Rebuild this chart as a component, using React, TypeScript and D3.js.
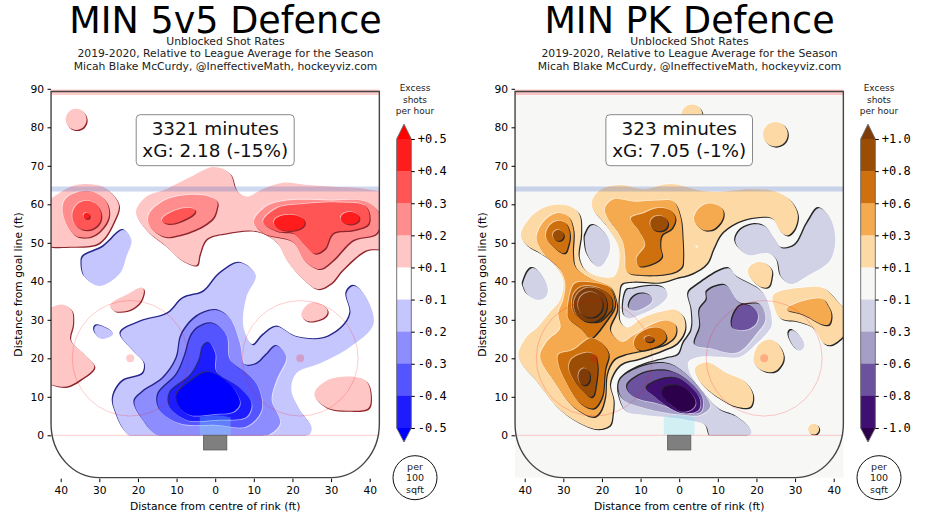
import { useEffect, useRef } from 'react';
import * as d3 from 'd3';

type Pt = [number, number];
type Contour = [number, Pt[]]; // band index (+up, -down), outline in feet

// 5v5 panel, band 1 is +0.1..+0.2, -1 is -0.1..-0.2 and so on
const evenContours: Contour[] = [
  [1, [[-36, 84.8], [-33.3, 82], [-36, 79.3], [-38.7, 82]]],
  [1, [[-45, 59], [-41, 62.5], [-36, 65], [-29, 64.5], [-25, 60], [-26, 56], [-30, 50], [-37, 49], [-45, 50]]],
  [1, [[-20.5, 58], [-17.8, 62], [-12.6, 64], [-6.6, 67], [-0.5, 69.7], [3.8, 68], [5.5, 63.7], [8, 62], [12.4, 64], [17.6, 65.6], [23.6, 65], [32, 64.5], [39, 64], [45, 62], [45, 49], [39, 48], [33, 43], [30, 39.5], [26.5, 38], [22.3, 41], [18.5, 45.5], [16, 50], [10.7, 53], [3, 52.5], [-2.2, 51], [-4, 47], [-4.8, 44.2], [-8.7, 45.5], [-12.6, 49], [-17.8, 53.3]]],
  [1, [[-26.9, 34.3], [-23, 36.5], [-19, 38.4], [-18.9, 35.6], [-21.2, 33], [-24.7, 32.1], [-26.6, 32.7]]],
  [1, [[-45, 31], [-39.8, 34], [-37.2, 32.5], [-36.8, 29], [-37.5, 24.8], [-34.2, 21.3], [-31.3, 17.8], [-35, 14.4], [-39, 12.6], [-45, 15]]],
  [1, [[22.4, 32], [25, 34.5], [28.4, 33.4], [28.8, 31.2], [25.8, 29.7], [23.2, 30]]],
  [1, [[25.8, 11.3], [29.3, 14.4], [35.8, 15.2], [39.2, 14], [40.3, 10], [39.6, 7], [34, 6.4], [29.3, 7], [26, 9.6]]],
  [2, [[-39.4, 60], [-35, 63.3], [-30, 62.4], [-27.5, 58.5], [-29, 54], [-33.3, 51.4], [-37.6, 53.3]]],
  [2, [[-17.4, 56], [-14.3, 60.3], [-7.4, 62.4], [-0.5, 61.6], [0.3, 58.5], [-2.2, 55], [-9.2, 52], [-14.3, 52]]],
  [2, [[10, 55.5], [13.3, 59.5], [18.5, 61], [30, 61], [39, 60.7], [42.5, 57.5], [41.8, 52.5], [35.7, 50.7], [30.5, 45.5], [27, 43.2], [23.2, 45.3], [20, 50.3], [12.5, 52.5]]],
  [3, [[-33.3, 60.9], [-29.5, 57], [-33.3, 53.3], [-37, 57]]],
  [3, [[-13.6, 56.4], [-10, 58.5], [-6.1, 59], [-5.5, 57.6], [-9.2, 55.5], [-12.6, 55]]],
  [3, [[12.4, 55.5], [16, 59], [22, 60], [32, 60.5], [39, 59.5], [39.7, 55], [35.7, 53.3], [30.5, 52.5], [28.4, 48.5], [25.8, 47.2], [22.8, 49.9], [20.2, 52.5], [16, 53]]],
  [4, [[-33.3, 57.8], [-32.5, 57], [-33.3, 56.2], [-34.1, 57]]],
  [4, [[15.2, 55.3], [19.2, 57.3], [23.2, 55.3], [19.2, 53.1]]],
  [4, [[32.5, 56.4], [34.9, 58], [37.3, 56.4], [34.9, 54.8]]],
  [-1, [[-23.8, 53.3], [-21.7, 50.7], [-23, 46.4], [-24.7, 42], [-29.9, 38.8], [-33.8, 41.2], [-34.6, 44.7], [-34.2, 46.4], [-29, 49]]],
  [-1, [[-31.3, 27.8], [-29.9, 28.5], [-26.4, 26.5], [-29, 25], [-30.7, 26]]],
  [-1, [[6.4, 44.8], [10.5, 41.6], [8.1, 36], [7.3, 28.2], [9.8, 23.4], [12.4, 26], [15.9, 28.2], [21, 25.6], [28, 25.2], [33, 28.2], [35, 31.7], [34, 36.9], [35.8, 38.8], [38.4, 36.9], [41, 29], [35, 23], [27.2, 18.7], [21, 16.1], [19.7, 11.8], [21.9, 6.6], [25, 1.8], [23.6, -0.5], [12.4, -1], [-21, -1], [-26, 6.6], [-26.4, 10], [-24, 14], [-18.7, 16], [-18.3, 18.7], [-21, 21.7], [-24.5, 26.5], [-19.5, 29.5], [-12.2, 31.7], [-8.3, 35.6], [-3, 37.3], [1.2, 42]]],
  [-2, [[0.3, 32.5], [3.8, 30.4], [6.4, 23.9], [7.7, 18.3], [10.7, 18.5], [13.3, 20.9], [15.9, 23.2], [18.4, 20.4], [15.9, 14.4], [14.6, 9.2], [16.8, 3.1], [12.4, -0.5], [-14, -0.5], [-18.7, 4], [-20.9, 8.7], [-18.7, 11.3], [-13.5, 14.8], [-10, 20], [-8.7, 26], [-4.8, 30.8]]],
  [-3, [[-0.5, 29], [2.9, 26], [3.8, 19.6], [8.1, 16], [11.1, 12.6], [12, 6.6], [8.1, 2.3], [0.3, 2.7], [-9.2, 3.1], [-14.3, 6.6], [-14.8, 10.5], [-10, 15.7], [-7.9, 20.4], [-6.1, 26], [-4, 28.2]]],
  [-4, [[-1.6, 24], [0, 21.3], [0.3, 16.5], [6.4, 12.2], [9.4, 8.3], [8.1, 4.8], [0.3, 4], [-7.4, 4], [-11.7, 7.4], [-11.7, 10.9], [-6.1, 15.7], [-4, 19.6], [-3.1, 23]]],
  [-5, [[-2.4, 16.4], [0.3, 15.7], [4.7, 12.2], [6.4, 8.3], [4.7, 6.1], [-0.5, 5.5], [-6.6, 5.3], [-9.2, 7.4], [-10, 10.5], [-6.6, 13.9]]],
];

// PK panel
const pkContours: Contour[] = [
  [1, [[3.3, 85.9], [6, 83.2], [3.3, 80.5], [0.6, 83.2]]],
  [1, [[24.9, 81.4], [28.1, 78.2], [24.9, 75], [21.7, 78.2]]],
  [1, [[-41, 52], [-38.7, 56.4], [-34.3, 59.4], [-29.5, 59.8], [-26, 57.7], [-25.4, 52.5], [-26, 46.4], [-24.4, 43], [-20.5, 41.2], [-17, 41.2], [-15.7, 43.8], [-15.7, 49], [-18.7, 54.2], [-22.2, 58.5], [-22.6, 60.7], [-20.5, 63.7], [-15.3, 65], [-9.2, 64], [-2.3, 65.3], [7.6, 63.3], [18.8, 64], [24.9, 63.3], [28.8, 61], [30.7, 57.2], [29.7, 53.3], [27.9, 51.9], [26.2, 53], [24, 56.4], [19.7, 56.6], [15.4, 55.5], [11, 52.5], [8.9, 48.6], [7.2, 44.7], [3.3, 42], [-1, 40.8], [-4.9, 39.7], [-11.8, 39.9], [-14.9, 39.3], [-15.5, 36.9], [-15.7, 32.6], [-15.3, 29.5], [-13.5, 28], [-9.5, 30.5], [-5, 32], [-1, 32.6], [1.1, 30.8], [1.5, 27.4], [-0.6, 23.9], [-4, 22.2], [-10, 20], [-15.3, 18.3], [-17.9, 13.5], [-17, 9.2], [-17.2, 5.7], [-17.9, 2.7], [-20.9, 1.6], [-24.8, 2.7], [-30.8, 6.6], [-36.9, 14], [-41.6, 20.4], [-39.5, 25.6], [-36.9, 27.8], [-33.4, 32], [-30.8, 35.2], [-30, 40.3], [-32.6, 44.7], [-36, 47.3], [-39.5, 49.4]]],
  [1, [[24.4, 36.5], [32.2, 38.4], [37.4, 38.2], [40.8, 35], [44, 30.8], [44, 27.8], [39.5, 23.5], [37.4, 23.9], [34.8, 27.8], [30.9, 29.5], [26.2, 30.4], [24.6, 33.4]]],
  [1, [[17.8, 42.9], [20.6, 45], [23.6, 43.6], [23.9, 40.8], [22.7, 38.4], [19.7, 39.5]]],
  [1, [[19.3, 20.4], [21, 23.9], [24.4, 24.6], [27, 20.9], [25.8, 17.4], [23.1, 16.4], [20.1, 17.8]]],
  [1, [[4.1, 17.4], [7.2, 18.9], [12.3, 16.1], [17.1, 13.9], [19.1, 10.5], [18.4, 7.4], [14.9, 7.4], [9.8, 10], [5.4, 13.9]]],
  [1, [[34.8, 3], [36.2, 1.6], [34.8, 0.2], [33.4, 1.6]]],
  [0, [[4.2, 49.4], [4.9, 49], [4.5, 48.7]]],
  [2, [[-36.9, 51.6], [-35.1, 55.5], [-31.7, 57.7], [-28.7, 56.8], [-27.4, 53.3], [-27.5, 47.3], [-26.9, 43.8], [-23, 40.8], [-17.9, 38.6], [-16.6, 36], [-16.1, 32.6], [-17.9, 27.4], [-14.9, 24.3], [-11.8, 26], [-6.6, 29], [-3.2, 29.8], [-1, 28.7], [-1, 26], [-3.2, 23.9], [-8.4, 22.3], [-14.4, 20.9], [-17, 19.6], [-18.7, 16.1], [-19.2, 10], [-20.5, 6.1], [-22.2, 4.8], [-27.4, 7.4], [-32.6, 14.4], [-36, 20.4], [-34.3, 24.3], [-30.8, 27.8], [-31.3, 31.7], [-30, 35.2], [-29.5, 39.5], [-30.8, 43], [-34.3, 46.4], [-36.4, 49.4]]],
  [2, [[-19.2, 59], [-17, 61.3], [-11.8, 60.7], [-5.8, 61], [-1.5, 60.7], [0.3, 56.8], [0.9, 50.7], [1, 46], [0.7, 43.8], [-1.5, 42.3], [-9.2, 41.6], [-13.5, 42.5], [-14, 46.8], [-14.5, 50], [-16, 53], [-18.7, 56.8]]],
  [2, [[3.9, 56.8], [6.3, 59.8], [9.8, 59.8], [11.5, 57.7], [10.2, 54.6], [7.6, 53.2], [5, 54.2]]],
  [2, [[27.9, 33], [35.7, 35.6], [38.7, 33.4], [39.3, 30], [37.4, 28.7], [32.2, 31.3]]],
  [3, [[-34.5, 52], [-33, 55], [-30, 55.5], [-28.4, 52.9], [-28.7, 49.4], [-30, 47.3], [-33, 49.4]]],
  [3, [[-12.5, 56.4], [-9.2, 57.7], [-5.8, 59], [-2.3, 58.5], [-1, 56.4], [-1.9, 53.8], [-4.5, 52], [-4.9, 49], [-4.5, 46.4], [-6.6, 44.7], [-10.5, 44], [-11, 46], [-8.8, 49.4], [-10.5, 53.3]]],
  [3, [[-28.9, 32.1], [-28.2, 36.9], [-26.9, 39.5], [-21.3, 39.5], [-17.9, 38.2], [-16.6, 34.3], [-17, 32.6], [-18.7, 30], [-21.8, 26], [-23, 25.2], [-25.6, 27.8], [-28.7, 30.4]]],
  [3, [[-31.3, 20.9], [-27.4, 22.2], [-23, 25.2], [-20.5, 24.3], [-18.3, 21.3], [-19.2, 17], [-20, 10], [-22.2, 7], [-25.6, 8.3], [-30, 15.2], [-31.3, 18.7]]],
  [3, [[-11.7, 24.3], [-9.7, 26.9], [-5.8, 28], [-3.6, 26.5], [-3.9, 24.3], [-7.1, 22.6], [-10.5, 22.2]]],
  [4, [[-32.7, 51.9], [-31.3, 53.3], [-29.9, 51.9], [-31.3, 50.5]]],
  [4, [[-7.5, 55], [-5.2, 57], [-2.9, 55], [-5.2, 53]]],
  [4, [[-27.4, 36.5], [-25.2, 38.6], [-20.5, 38.2], [-17.7, 36], [-17.4, 33], [-18.3, 31.7], [-20.9, 29.5], [-24.4, 30], [-27.4, 32.1]]],
  [4, [[-28.4, 18.7], [-26, 20.9], [-22.6, 21.3], [-21.2, 18.7], [-21.5, 13.5], [-22.6, 10], [-25.2, 11.8], [-27.8, 15.2]]],
  [4, [[-9, 25], [-7.8, 25.8], [-6.6, 25], [-7.8, 24.2]]],
  [5, [[-27.3, 33.9], [-23, 38.4], [-18.7, 33.9], [-23, 29.4]]],
  [5, [[-26.2, 33.9], [-23, 37.2], [-19.8, 33.9], [-23, 30.6]]],
  [5, [[-26.1, 15.2], [-24.6, 17.4], [-23.1, 15.2], [-24.6, 13]]],
  [-1, [[-40.2, 40.3], [-38.2, 43.4], [-35.6, 41.6], [-34, 37.7], [-35.6, 35.3], [-38.6, 36], [-40.2, 38.2]]],
  [-1, [[-24.1, 52.5], [-22.2, 54.6], [-19.2, 52.5], [-17.9, 49.4], [-18.7, 46], [-20.9, 43.8], [-23.5, 46.4], [-24.4, 49.9]]],
  [-1, [[-14, 36.9], [-11.4, 38.2], [-5.8, 38.8], [-3.2, 37.3], [-4.1, 34.7], [-9.2, 31.7], [-14, 30.8]]],
  [-1, [[14.5, 50.7], [15.8, 53.3], [19.3, 54.8], [22.3, 54.2], [24.9, 50.7], [26.6, 48.6], [30, 49.4], [33.1, 55], [36.1, 59], [38.7, 57], [40.4, 51.6], [39.1, 45.5], [33.5, 41.6], [28.8, 39.3], [26.4, 41.2], [25.3, 45.5], [23.1, 47.3], [18, 46.8], [15.4, 48.6]]],
  [-1, [[2.4, 36.9], [4.6, 39], [12.8, 43.4], [14.9, 41.2], [21.8, 36.9], [24, 29], [23.1, 27], [20.1, 23.9], [15.8, 20.4], [10.6, 20.4], [5.4, 20.4], [2.4, 19.1], [2.8, 16], [7.2, 10], [10.6, 6.6], [14.9, 4.8], [18.7, 1], [17.1, -1], [8.5, -1], [6.7, 2.7], [2, 4], [-4, 4.8], [-9.2, 5.3], [-13.6, 6.1], [-15.3, 9.2], [-15.7, 12.6], [-14, 15.7], [-9.2, 18.3], [-3.2, 20], [-0.2, 20.9], [1.1, 23.9], [3.2, 27.4], [3.2, 32.6]]],
  [-1, [[28.3, 26], [29.6, 27.2], [32.2, 24.3], [31.8, 22.2], [30, 22.6]]],
  [-2, [[-12.9, 34.3], [-11, 36.5], [-7.9, 36.5], [-7.1, 34.7], [-10.1, 32.7], [-12.5, 32.6]]],
  [-2, [[4.1, 23.5], [5.4, 28.2], [5.3, 32.6], [7.1, 35.2], [7.2, 37.3], [11.9, 39], [15.8, 34.3], [21, 33.9], [22.3, 30], [20.1, 26.5], [15, 21.5], [8, 22.6]]],
  [-2, [[-15.3, 14.4], [-11.8, 17], [-5.8, 18.7], [-1.9, 18.3], [2, 15.7], [6.3, 10.9], [8, 7.4], [5.4, 5.3], [1.1, 5.3], [-4.9, 6.1], [-10.1, 7.4], [-14.4, 9.2], [-15.7, 11.8]]],
  [-3, [[13.6, 28.7], [14.5, 32.1], [16.7, 33.9], [19.7, 32.6], [20.3, 30], [18.4, 27.8], [15, 27.4]]],
  [-3, [[-13.4, 13], [-10.1, 15.7], [-5.8, 16.8], [-1.9, 16.5], [2, 14.4], [5.9, 10], [5.9, 6.6], [4.6, 5.7], [-0.6, 6.6], [-5.8, 8.3], [-11, 9.6], [-13.1, 11.3]]],
  [-4, [[-8.4, 12.2], [-4.9, 14.4], [-0.6, 14.8], [3.3, 12.2], [5.4, 9.2], [5, 6.6], [1.1, 5.7], [-2.3, 7], [-5.8, 9.6]]],
  [-5, [[-4.2, 11.8], [-2.8, 12.8], [0.7, 12.6], [3.7, 10], [3.9, 7.4], [1.1, 6.1], [-1.5, 7.4], [-4.1, 10]]],
];

const evenBarLabels = ['+0.5', '+0.4', '+0.3', '+0.2', '+0.1', '-0.1', '-0.2', '-0.3', '-0.4', '-0.5'];
const pkBarLabels = ['+1.0', '+0.8', '+0.6', '+0.3', '+0.1', '-0.1', '-0.3', '-0.6', '-0.8', '-1.0'];

const evenBands = ['#0000ff', '#1c1cff', '#5555ff', '#8d8dff', '#c6c6ff', '#ffffff', '#ffc6c6', '#ff8d8d', '#ff5555', '#ff1c1c', '#ff0000'];
const pkBands = ['#2d004b', '#3f0f72', '#6c519f', '#a59fc8', '#d2d2e7', '#f7f7f6', '#fdd9a6', '#f5aa4f', '#cf700f', '#9b4d05', '#7f3b08'];

const xTicks = [-40, -30, -20, -10, 0, 10, 20, 30, 40];
const yTicks = [0, 10, 20, 30, 40, 50, 60, 70, 80, 90];

const FONT = '"DejaVu Sans", sans-serif';

interface PanelConfig {
  left: number; // pixel of x = -40
  right: number; // pixel of x = +40
  title: string;
  minutes: string;
  xg: string;
  boxWidth: number;
  contours: Contour[];
  bands: string[];
  barLabels: string[];
  shadowUp: string;
  shadowDown: string;
  id: string;
}

const panels: PanelConfig[] = [
  { left: 60.7, right: 369.7, title: 'MIN 5v5 Defence', minutes: '3321 minutes', xg: 'xG: 2.18 (-15%)', boxWidth: 158, contours: evenContours, bands: evenBands, barLabels: evenBarLabels, shadowUp: '#8f262c', shadowDown: '#26268c', id: 'even' },
  { left: 524.7, right: 833.7, title: 'MIN PK Defence', minutes: '323 minutes', xg: 'xG: 7.05 (-1%)', boxWidth: 146.6, contours: pkContours, bands: pkBands, barLabels: pkBarLabels, shadowUp: '#262626', shadowDown: '#262626', id: 'pk' },
];

function drawPanel(svg: d3.Selection<SVGSVGElement, unknown, null, undefined>, p: PanelConfig) {
  const x = d3.scaleLinear().domain([-40, 40]).range([p.left, p.right]);
  const y = d3.scaleLinear().domain([0, 90]).range([435.3, 88.8]);
  const mid = x(0);
  const g = svg.append('g').attr('font-family', FONT);

  // titles
  g.append('text').attr('x', mid + 10.3).attr('y', 33).attr('text-anchor', 'middle').attr('font-size', 36.5).text(p.title);
  const subs = ['Unblocked Shot Rates', '2019-2020, Relative to League Average for the Season', 'Micah Blake McCurdy, @IneffectiveMath, hockeyviz.com'];
  subs.forEach((s, i) => {
    g.append('text').attr('x', mid + 10.3).attr('y', 45 + i * 12.3).attr('text-anchor', 'middle').attr('font-size', 10.8).attr('fill', '#222').text(s);
  });

  const bg = p.bands[5];
  g.append('rect').attr('x', x(-42.5)).attr('y', y(89.7)).attr('width', x(42.5) - x(-42.5)).attr('height', y(-11) - y(89.7)).attr('fill', bg);

  const clipId = `clip-${p.id}`;
  g.append('clipPath').attr('id', clipId).append('rect').attr('x', x(-42.5)).attr('y', y(89)).attr('width', x(42.5) - x(-42.5)).attr('height', y(0) - y(89));

  // short outlines need a rounder spline than the long traced ones
  const makeLine = (n: number) => {
    const curve = n <= 4 ? d3.curveCardinalClosed.tension(-0.66)
      : n <= 8 ? d3.curveCardinalClosed.tension(-0.25)
      : d3.curveCatmullRomClosed.alpha(0.5);
    return d3.line<Pt>().x((d) => x(d[0])).y((d) => y(d[1])).curve(curve);
  };
  const contours = g.append('g').attr('clip-path', `url(#${clipId})`);
  p.contours.forEach(([level, pts]) => {
    const d = makeLine(pts.length)(pts) as string;
    const up = level > 0;
    const dir = up ? 1 : -1;
    if (level !== 0) {
      contours.append('path').attr('d', d).attr('fill', '#ffffff').attr('fill-opacity', 0.5).attr('transform', `translate(${-0.8 * dir},${-0.8 * dir})`);
      contours.append('path').attr('d', d).attr('fill', up ? p.shadowUp : p.shadowDown).attr('transform', `translate(${1.1 * dir},${1.1 * dir})`);
    }
    contours.append('path').attr('d', d).attr('fill', p.bands[5 + level]);
  });

  // rink markings
  const rink = g.append('g').attr('fill', 'none');
  [-22, 22].forEach((cx) => {
    rink.append('ellipse').attr('cx', x(cx)).attr('cy', y(20)).attr('rx', x(15) - x(0)).attr('ry', y(0) - y(15)).attr('stroke', '#ff0000').attr('stroke-opacity', 0.2);
    rink.append('circle').attr('cx', x(cx)).attr('cy', y(20)).attr('r', 4).attr('fill', '#ff0000').attr('fill-opacity', 0.2);
  });
  rink.append('line').attr('x1', x(-42.5)).attr('x2', x(42.5)).attr('y1', y(0)).attr('y2', y(0)).attr('stroke', '#ff0000').attr('stroke-opacity', 0.2);
  rink.append('line').attr('x1', x(-42.5)).attr('x2', x(42.5)).attr('y1', y(64)).attr('y2', y(64)).attr('stroke', '#3c64c0').attr('stroke-opacity', 0.25).attr('stroke-width', 5);
  rink.append('line').attr('x1', x(-42.5)).attr('x2', x(42.5)).attr('y1', y(89.1)).attr('y2', y(89.1)).attr('stroke', '#ff0000').attr('stroke-opacity', 0.2).attr('stroke-width', 5.5);
  rink.append('path')
    .attr('d', `M${x(-4)},${y(0)}L${x(-4)},${y(4.6)}Q${x(0)},${y(5.8)} ${x(4)},${y(4.6)}L${x(4)},${y(0)}Z`)
    .attr('fill', '#7fe0f0').attr('fill-opacity', 0.3);
  rink.append('rect').attr('x', x(-3)).attr('y', y(0)).attr('width', x(3) - x(-3)).attr('height', y(-3.8) - y(0))
    .attr('fill', '#7f7f7f').attr('stroke', '#5f5f5f').attr('stroke-width', 0.9);

  const rx = x(12.5) - x(0);
  const ry = y(0) - y(14);
  rink.append('path')
    .attr('d', `M${x(-42.5)},${y(89.3)}L${x(42.5)},${y(89.3)}L${x(42.5)},${y(3)}A${rx},${ry} 0 0 1 ${x(30)},${y(-11)}L${x(-30)},${y(-11)}A${rx},${ry} 0 0 1 ${x(-42.5)},${y(3)}Z`)
    .attr('stroke', '#444').attr('stroke-width', 1.4);

  // annotation box
  const boxMid = mid;
  g.append('rect').attr('x', boxMid - p.boxWidth / 2).attr('y', 114.7).attr('width', p.boxWidth).attr('height', 51).attr('rx', 4)
    .attr('fill', '#fff').attr('stroke', '#888');
  [p.minutes, p.xg].forEach((s, i) => {
    g.append('text').attr('x', boxMid).attr('y', 135 + i * 22).attr('text-anchor', 'middle').attr('font-size', 18.4).attr('fill', '#111').text(s);
  });

  // axes
  const yAxis = g.append('g').attr('transform', `translate(${x(-42.5)},0)`)
    .call(d3.axisLeft(y).tickValues(yTicks).tickSize(3.5).tickPadding(3.5).tickSizeOuter(0));
  const xAxis = g.append('g').attr('transform', `translate(0,${y(-11) + 1})`)
    .call(d3.axisBottom(x).tickValues(xTicks).tickFormat((d) => String(Math.abs(d as number))).tickSize(3.5).tickPadding(4).tickSizeOuter(0));
  [yAxis, xAxis].forEach((a) => {
    a.select('.domain').remove();
    a.attr('font-family', FONT).attr('font-size', 10.7);
  });

  g.append('text').attr('x', mid).attr('y', 510).attr('text-anchor', 'middle').attr('font-size', 10.75).text('Distance from centre of rink (ft)');
  g.append('text').attr('transform', `translate(${x(-42.5) - 29},284.5) rotate(-90)`).attr('text-anchor', 'middle').attr('font-size', 10.75).text('Distance from goal line (ft)');

  // colour bar
  const barL = x(40) + 27;
  const barR = barL + 14.6;
  const bar = d3.scalePoint<string>().domain(p.barLabels).range([139, 428]);
  const seg = g.append('g');
  const stack = [...p.bands].reverse(); // top to bottom
  p.barLabels.slice(0, -1).forEach((lab, i) => {
    const next = p.barLabels[i + 1];
    seg.append('rect').attr('x', barL).attr('y', bar(lab) as number).attr('width', barR - barL).attr('height', (bar(next) as number) - (bar(lab) as number) + 0.5).attr('fill', stack[i + 1]);
  });
  const barTop = bar(p.barLabels[0]) as number;
  const barBot = bar(p.barLabels[9]) as number;
  seg.append('path').attr('d', `M${barL},${barTop}L${(barL + barR) / 2},${barTop - 14.8}L${barR},${barTop}Z`).attr('fill', stack[0]);
  seg.append('path').attr('d', `M${barL},${barBot}L${(barL + barR) / 2},${barBot + 14}L${barR},${barBot}Z`).attr('fill', stack[10]);
  seg.append('path')
    .attr('d', `M${barL},${barTop}L${(barL + barR) / 2},${barTop - 14.8}L${barR},${barTop}L${barR},${barBot}L${(barL + barR) / 2},${barBot + 14}L${barL},${barBot}Z`)
    .attr('fill', 'none').attr('stroke', '#666').attr('stroke-width', 0.9);
  const barAxis = g.append('g').attr('transform', `translate(${barR},0)`)
    .call(d3.axisRight(bar).tickSize(3.5).tickPadding(3).tickSizeOuter(0));
  barAxis.select('.domain').remove();
  barAxis.attr('font-family', '"DejaVu Sans Mono", monospace').attr('font-size', 12);

  const side = barL + 18.3;
  ['Excess', 'shots', 'per hour'].forEach((s, i) => {
    g.append('text').attr('x', side).attr('y', 91.2 + i * 11.6).attr('text-anchor', 'middle').attr('font-size', 9).attr('fill', '#222').text(s);
  });
  g.append('circle').attr('cx', side).attr('cy', 477.7).attr('r', 22).attr('fill', 'none').attr('stroke', '#111').attr('stroke-width', 1);
  ['per', '100', 'sqft'].forEach((s, i) => {
    g.append('text').attr('x', side).attr('y', 469.5 + i * 11.6).attr('text-anchor', 'middle').attr('font-size', 9.5).attr('fill', '#222').text(s);
  });
}

export default function App() {
  const ref = useRef<SVGSVGElement | null>(null);

  useEffect(() => {
    if (!ref.current) return;
    const svg = d3.select(ref.current);
    svg.selectAll('*').remove();
    panels.forEach((p) => drawPanel(svg, p));
  }, []);

  return <svg ref={ref} width={945} height={516} style={{ position: 'absolute', left: 0, top: 0 }} />;
}
